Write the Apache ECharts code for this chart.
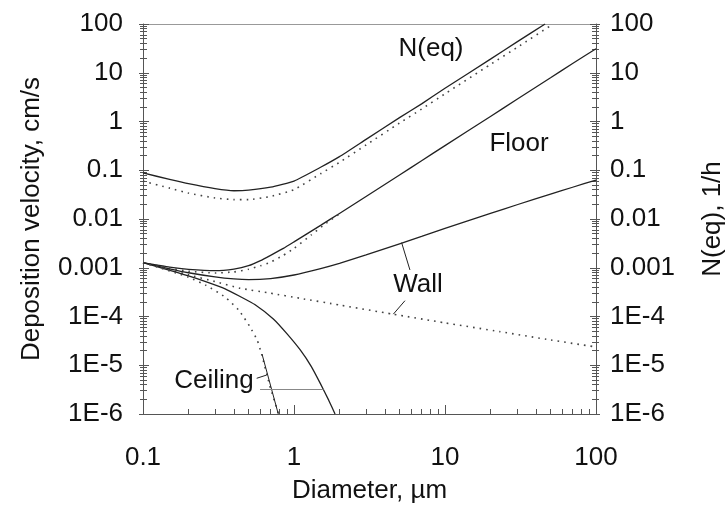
<!DOCTYPE html>
<html>
<head>
<meta charset="utf-8">
<script src="https://cdn.jsdelivr.net/npm/echarts@6/dist/echarts.min.js"></script>
<style>
  html, body { margin: 0; padding: 0; background: #fff; }
  #chart { width: 726px; height: 505px; }
</style>
</head>
<body>
<div id="chart"></div>
<script>
// diameters (um) and deposition velocities (cm/s)
var nEqD = [0.1, 0.15, 0.2, 0.3, 0.4, 0.5, 0.7, 1, 1.5, 2, 3, 5, 7, 10, 20, 30, 46]
var nEqV = [0.088, 0.065, 0.053, 0.042, 0.038, 0.039, 0.045, 0.060, 0.115, 0.19, 0.43, 1.2, 2.3, 4.8, 19, 43, 100]
var nEqDotD = [0.1, 0.15, 0.2, 0.3, 0.4, 0.5, 0.7, 1, 1.5, 2, 3, 5, 7, 10, 20, 30, 52]
var nEqDotV = [0.060, 0.043, 0.034, 0.027, 0.025, 0.025, 0.029, 0.040, 0.085, 0.145, 0.33, 0.93, 1.8, 3.7, 14.8, 33, 100]

var floorD = [0.1, 0.15, 0.2, 0.3, 0.4, 0.5, 0.6, 0.7, 0.85, 1, 1.5, 2, 3, 5, 7, 10, 20, 30, 50, 70, 100]
var floorV = [0.00127, 0.00103, 0.00093, 0.00087, 0.00094, 0.0011, 0.0014, 0.0018, 0.0025, 0.0034, 0.0074, 0.013, 0.029, 0.08, 0.157, 0.32, 1.27, 2.85, 7.9, 15.5, 31]
var floorDotD = [0.1, 0.15, 0.2, 0.3, 0.4, 0.5, 0.6, 0.7, 0.85, 1, 1.3, 1.6, 2]
var floorDotV = [0.00127, 0.00099, 0.00085, 0.00078, 0.00082, 0.00093, 0.0011, 0.0013, 0.0018, 0.0025, 0.0047, 0.0078, 0.0127]

var wallD = [0.1, 0.15, 0.2, 0.3, 0.4, 0.5, 0.7, 1, 1.5, 2, 3, 5, 7, 10, 20, 30, 50, 70, 100]
var wallV = [0.00127, 0.00095, 0.00079, 0.00065, 0.00059, 0.00057, 0.0006, 0.00071, 0.00096, 0.00123, 0.00183, 0.0031, 0.0044, 0.0064, 0.013, 0.0196, 0.0322, 0.0448, 0.063]
var wallDotD = [0.1, 0.15, 0.2, 0.3, 0.44, 0.7, 1.1, 2, 4.5, 10, 23, 50, 100]
var wallDotV = [0.00127, 0.00092, 0.00072, 0.00052, 0.00038, 0.0003, 0.000236, 0.000172, 0.000112, 0.000074, 0.000049, 0.000033, 0.0000237]

var ceilD = [0.1, 0.13, 0.17, 0.2, 0.26, 0.35, 0.44, 0.55, 0.73, 0.9, 1.1, 1.3, 1.49, 1.7, 1.87]
var ceilV = [0.00127, 0.00101, 0.00079, 0.00068, 0.00052, 0.00037, 0.000257, 0.000176, 0.000089, 0.000044, 0.0000206, 0.0000095, 0.0000043, 0.0000019, 0.000001]
var ceilDotD = [0.1, 0.13, 0.17, 0.2, 0.26, 0.35, 0.43, 0.47, 0.51, 0.57, 0.61, 0.69, 0.79]
var ceilDotV = [0.00127, 0.00099, 0.00076, 0.00064, 0.00044, 0.00025, 0.000136, 0.000092, 0.000062, 0.000033, 0.000017, 0.0000039, 0.000001]

// leader lines of the curve labels, [diameter, velocity] pairs
var wallLeaders = [
  [[5.16, 0.00327], [5.86, 0.0009]],
  [[4.55, 0.000112], [5.43, 0.000211]]
]
var ceilLeaders = [
  [[0.566, 0.0000054], [0.659, 0.0000063]],
  [[0.614, 0.000017], [0.787, 0.000001]]
]
var ceilHLeader = [[0.596, 0.0000032], [1.57, 0.0000032]]

// tick labels
var xTickLabels = ['0.1', '1', '10', '100']
var yTickLabels = ['1E-6', '1E-5', '1E-4', '0.001', '0.01', '0.1', '1', '10', '100']
var minorSteps = [2, 3, 4, 5, 6, 7, 8, 9]
var xDecades = [-1, 0, 1]
var yDecades = [-6, -5, -4, -3, -2, -1, 0, 1]

function pairs (d, v) {
  return d.map(function (x, i) { return [x, v[i]] })
}
// minor tick positions in log10 units, for the helper value axes
function minorLogs (decades) {
  var out = []
  decades.forEach(function (e) {
    minorSteps.forEach(function (k) { out.push(e + Math.log10(k)) })
  })
  return out
}

var font = 'Liberation Sans'
var ink = '#222'
var axisColor = '#555'
var minorX = minorLogs(xDecades)
var minorY = minorLogs(yDecades)

function yLabel (v) {
  return yTickLabels[Math.round(Math.log10(v)) + 6]
}
function xLabel (v) {
  return xTickLabels[Math.round(Math.log10(v)) + 1]
}

function solid (name, d, v) {
  return {
    name: name, type: 'line', data: pairs(d, v), showSymbol: false, smooth: 0.15,
    lineStyle: { color: ink, width: 1.3 }, silent: true
  }
}
function dotted (name, d, v) {
  return {
    name: name, type: 'line', data: pairs(d, v), showSymbol: false, smooth: 0.15,
    lineStyle: { color: '#444', width: 1.6, type: [1.6, 5] }, silent: true
  }
}
function leaders (list, color) {
  return {
    silent: true, symbol: ['none', 'none'], label: { show: false },
    lineStyle: { color: color, width: 1, type: 'solid' },
    data: list.map(function (p) { return [{ coord: p[0] }, { coord: p[1] }] })
  }
}

var logY = { type: 'log', min: 1e-6, max: 100, logBase: 10, splitLine: { show: false } }
var linY = { type: 'value', min: -6, max: 2, splitLine: { show: false }, axisLabel: { show: false }, axisLine: { show: false, onZero: false } }

var chart = echarts.init(document.getElementById('chart'))
var series = [
  solid('N(eq)', nEqD, nEqV),
  dotted('N(eq) dotted', nEqDotD, nEqDotV),
  solid('Floor', floorD, floorV),
  dotted('Floor dotted', floorDotD, floorDotV),
  solid('Wall', wallD, wallV),
  dotted('Wall dotted', wallDotD, wallDotV),
  solid('Ceiling', ceilD, ceilV),
  dotted('Ceiling dotted', ceilDotD, ceilDotV)
]
series[4].markLine = leaders(wallLeaders, ink)
series[6].markLine = leaders(ceilLeaders, ink)
series[7].markLine = leaders([ceilHLeader], '#888')

var option = {
  animation: false,
  backgroundColor: '#fff',
  grid: { left: 143, right: 130, top: 24, bottom: 91, outerBoundsMode: 'none' },
  xAxis: [
    {
      type: 'log', min: 0.1, max: 100, position: 'bottom',
      axisLine: { onZero: false, lineStyle: { color: axisColor, width: 1 } },
      axisTick: { inside: true, length: 9, lineStyle: { color: axisColor } },
      axisLabel: { formatter: xLabel, fontSize: 26, fontFamily: font, color: '#111', margin: 31 },
      splitLine: { show: false },
      name: 'Diameter, µm', nameLocation: 'middle', nameGap: 64,
      nameTextStyle: { fontSize: 26, fontFamily: font, color: '#111' }
    },
    {
      type: 'value', min: -1, max: 2, position: 'bottom',
      axisLine: { show: false, onZero: false }, axisLabel: { show: false }, splitLine: { show: false },
      axisTick: { inside: true, length: 5, customValues: minorX, lineStyle: { color: axisColor } }
    },
    {
      type: 'value', min: -1, max: 2, position: 'top',
      axisLine: { onZero: false, lineStyle: { color: '#999', width: 1 } },
      axisTick: { show: false }, axisLabel: { show: false }, splitLine: { show: false }
    }
  ],
  yAxis: [
    Object.assign({}, logY, {
      position: 'left',
      axisLine: { onZero: false, lineStyle: { color: axisColor, width: 1 } },
      axisTick: { inside: false, length: 4, lineStyle: { color: axisColor } },
      axisLabel: { formatter: yLabel, fontSize: 26, fontFamily: font, color: '#111', margin: 20 },
      name: 'Deposition velocity, cm/s', nameLocation: 'middle', nameRotate: 90, nameGap: 98,
      nameTextStyle: { fontSize: 26, fontFamily: font, color: '#111' }
    }),
    Object.assign({}, logY, {
      position: 'left', axisLine: { show: false, onZero: false }, axisLabel: { show: false },
      axisTick: { inside: true, length: 6, lineStyle: { color: axisColor } }
    }),
    Object.assign({}, linY, {
      position: 'left',
      axisTick: { inside: true, length: 4, customValues: minorY, lineStyle: { color: axisColor } }
    }),
    Object.assign({}, linY, {
      position: 'left',
      axisTick: { inside: false, length: 3, customValues: minorY, lineStyle: { color: axisColor } }
    }),
    Object.assign({}, logY, {
      position: 'right',
      axisLine: { onZero: false, lineStyle: { color: axisColor, width: 1 } },
      axisTick: { inside: false, length: 4, lineStyle: { color: axisColor } },
      axisLabel: { formatter: yLabel, fontSize: 26, fontFamily: font, color: '#111', margin: 14 },
      name: 'N(eq), 1/h', nameLocation: 'middle', nameRotate: 90, nameGap: 104,
      nameTextStyle: { fontSize: 26, fontFamily: font, color: '#111' }
    }),
    Object.assign({}, logY, {
      position: 'right', axisLine: { show: false, onZero: false }, axisLabel: { show: false },
      axisTick: { inside: true, length: 6, lineStyle: { color: axisColor } }
    }),
    Object.assign({}, linY, {
      position: 'right',
      axisTick: { inside: true, length: 4, customValues: minorY, lineStyle: { color: axisColor } }
    }),
    Object.assign({}, linY, {
      position: 'right',
      axisTick: { inside: false, length: 3, customValues: minorY, lineStyle: { color: axisColor } }
    })
  ],
  graphic: [
    { type: 'text', x: 431, y: 49, style: { text: 'N(eq)', font: '26px "Liberation Sans"', fill: '#111', align: 'center', verticalAlign: 'middle' } },
    { type: 'text', x: 519, y: 144, style: { text: 'Floor', font: '26px "Liberation Sans"', fill: '#111', align: 'center', verticalAlign: 'middle' } },
    { type: 'text', x: 418, y: 285, style: { text: 'Wall', font: '26px "Liberation Sans"', fill: '#111', align: 'center', verticalAlign: 'middle' } },
    { type: 'text', x: 214, y: 381, style: { text: 'Ceiling', font: '26px "Liberation Sans"', fill: '#111', align: 'center', verticalAlign: 'middle' } }
  ],
  series: series
}
chart.setOption(option)
</script>
</body>
</html>
